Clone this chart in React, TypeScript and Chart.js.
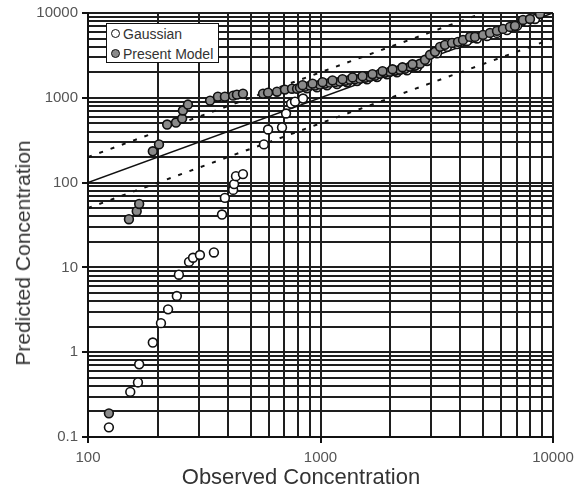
import React, { useEffect, useRef } from "react";
import { Chart, registerables } from "chart.js";

Chart.register(...registerables);

const gaussianObs = [
  123, 152, 164, 166, 190, 206, 221, 241, 246, 272, 283, 303, 348, 377, 388, 421, 425, 433, 464,
  571, 595, 683, 711, 747, 777, 841, 875, 966, 1067, 1178, 1300, 1436, 1585, 1750, 1932, 2133,
  2355, 2601, 2872, 3170, 3500, 3865, 4267, 4711, 5201, 5743, 6341, 7001, 7729, 8369,
];
const gaussianPred = [
  0.13, 0.34, 0.44, 0.72, 1.3, 2.2, 3.2, 4.6, 8.2, 11.6, 13, 14, 15, 42, 66, 82, 96, 119, 126,
  282, 423, 447, 653, 855, 900, 980, 1297, 1332, 1406, 1456, 1525, 1579, 1654, 1754, 1892, 1998,
  2109, 2287, 2719, 3356, 3989, 4303, 4679, 5006, 5357, 5824, 6283, 7036, 7884, 8502,
];

const presentObs = [
  123, 150, 162, 166, 190, 202, 219, 239, 254, 256, 269, 335, 362, 388, 421, 437, 464, 566, 595,
  650, 703, 754, 793, 816, 858, 901, 947, 995, 1045, 1099, 1154, 1213, 1275, 1340, 1408, 1479,
  1554, 1633, 1716, 1803, 1894, 1990, 2092, 2198, 2309, 2427, 2550, 2679, 2815, 2958, 3108, 3266,
  3431, 3678, 3903, 4102, 4395, 4618, 5001, 5358, 5743, 6095, 6533, 6864, 7430, 7962, 8793,
  837, 924, 1020, 1126, 1243, 1373, 1516, 1673, 1848, 2040, 2252, 2487,
];
const presentPred = [
  0.19, 37, 46, 56, 234, 282, 484, 511, 570, 708, 832, 927, 1030, 1030, 1060, 1090, 1120, 1120, 1150,
  1180, 1250, 1280, 1280, 1318, 1353, 1390, 1390, 1429, 1468, 1508, 1528, 1549, 1591, 1635, 1658, 1680,
  1726, 1773, 1822, 1923, 1975, 2030, 2085, 2143, 2201, 2323, 2387, 2520, 2808, 3214, 3485, 3988,
  4209, 4443, 4566, 4819, 5227, 5227, 5517, 5824, 6148, 6490, 6850, 7036, 8278, 8502, 9734,
  1410, 1468, 1528, 1605, 1658, 1740, 1798, 1898, 2058, 2172, 2293, 2486,
];

// Reference lines: 1:1 and factor-of-two bounds
const oneToOneX = [100, 10000];
const oneToOneY = [100, 10000];
const upperX = [100, 5000];
const upperY = [200, 10000];
const lowerX = [100, 10000];
const lowerY = [50, 5000];

// Axes
const xMin = 100;
const xMax = 10000;
const yMin = 0.1;
const yMax = 10000;
const xDecades = [100, 1000, 10000];
const yDecades = [0.1, 1, 10, 100, 1000, 10000];
const minorSteps = [1, 2, 3, 4, 5, 6, 7, 8, 9];
const xLabels = ["100", "1000", "10000"];
const yLabels = ["0.1", "1", "10", "100", "1000", "10000"];

const seriesNames = ["Gaussian", "Present Model"];

function buildTicks(decades: number[], max: number) {
  const out: { value: number; major: boolean }[] = [];
  decades.forEach((d) => {
    minorSteps.forEach((m) => {
      const v = parseFloat((d * m).toPrecision(6));
      if (v <= max) out.push({ value: v, major: m === 1 });
    });
  });
  return out;
}

function pts(xs: number[], ys: number[]) {
  return xs.map((x, i) => ({ x, y: ys[i] }));
}

const FONT = "'Liberation Sans', Arial, Helvetica, sans-serif";
const GRAY = "#8a8a8a";

export default function App() {
  const canvasRef = useRef<HTMLCanvasElement | null>(null);

  useEffect(() => {
    if (!canvasRef.current) return;
    const gridColor = "#1e1e1e";
    const chart = new Chart(canvasRef.current, {
      type: "scatter",
      data: {
        datasets: [
          {
            label: seriesNames[0],
            data: pts(gaussianObs, gaussianPred),
            backgroundColor: "#ffffff",
            borderColor: "#111",
            borderWidth: 1.6,
            pointRadius: 4.4,
            order: 2,
          },
          {
            label: seriesNames[1],
            data: pts(presentObs, presentPred),
            backgroundColor: GRAY,
            borderColor: "#111",
            borderWidth: 1.6,
            pointRadius: 4.4,
            order: 1,
          },
          {
            type: "line",
            label: "1:1",
            data: pts(oneToOneX, oneToOneY),
            borderColor: "#111",
            borderWidth: 1.6,
            pointRadius: 0,
            showLine: true,
            order: 3,
          } as any,
          {
            type: "line",
            label: "x2",
            data: pts(upperX, upperY),
            borderColor: "#111",
            borderWidth: 2,
            borderDash: [4, 8],
            pointRadius: 0,
            showLine: true,
            order: 3,
          } as any,
          {
            type: "line",
            label: "/2",
            data: pts(lowerX, lowerY),
            borderColor: "#111",
            borderWidth: 2,
            borderDash: [4, 8],
            pointRadius: 0,
            showLine: true,
            order: 3,
          } as any,
        ],
      },
      options: {
        animation: false,
        responsive: false,
        maintainAspectRatio: false,
        layout: { padding: { left: 0, top: 11, right: 31, bottom: 0 } },
        plugins: {
          legend: { display: false },
          tooltip: { enabled: false },
          title: { display: false },
        },
        scales: {
          x: {
            type: "logarithmic",
            min: xMin,
            max: xMax,
            afterBuildTicks: (axis: any) => {
              axis.ticks = buildTicks(xDecades, xMax);
            },
            afterFit: (axis: any) => {
              axis.height = 51;
            },
            border: { color: "#111", width: 2 },
            grid: {
              color: gridColor,
              lineWidth: 2,
              tickLength: 6,
              tickColor: (ctx: any) => (ctx.tick && ctx.tick.major ? "#111" : "rgba(0,0,0,0)"),
              tickWidth: 2,
            },
            ticks: {
              autoSkip: false,
              maxRotation: 0,
              padding: 6,
              color: "#555",
              font: { family: FONT, size: 15 },
              callback: (value: any) => {
                const i = xDecades.findIndex((d) => Math.abs(d - Number(value)) < 1e-9);
                return i >= 0 ? xLabels[i] : "";
              },
            },
          },
          y: {
            type: "logarithmic",
            min: yMin,
            max: yMax,
            afterBuildTicks: (axis: any) => {
              axis.ticks = buildTicks(yDecades, yMax);
            },
            afterFit: (axis: any) => {
              axis.width = 88;
            },
            border: { color: "#111", width: 2 },
            grid: {
              color: gridColor,
              lineWidth: 2,
              tickLength: 6,
              tickColor: (ctx: any) => (ctx.tick && ctx.tick.major ? "#111" : "rgba(0,0,0,0)"),
              tickWidth: 2,
            },
            ticks: {
              autoSkip: false,
              padding: 4,
              color: "#555",
              font: { family: FONT, size: 15 },
              callback: (value: any) => {
                const i = yDecades.findIndex((d) => Math.abs(d - Number(value)) < 1e-9);
                return i >= 0 ? yLabels[i] : "";
              },
            },
          },
        },
      } as any,
    });
    return () => chart.destroy();
  }, []);

  const circle = (bg: string): React.CSSProperties => ({
    position: "absolute",
    left: 3.5,
    width: 7,
    height: 7,
    borderRadius: "50%",
    border: "1.6px solid #111",
    background: bg,
  });

  return (
    <div
      style={{
        position: "absolute",
        left: 0,
        top: 0,
        width: 584,
        height: 488,
        background: "#fff",
        fontFamily: FONT,
      }}
    >
      <canvas ref={canvasRef} width={584} height={488} style={{ display: "block" }} />
      <div
        style={{
          position: "absolute",
          left: 106,
          top: 23,
          width: 113,
          height: 40,
          boxSizing: "border-box",
          border: "1.5px solid #111",
          background: "#fff",
          fontSize: 14,
          color: "#333",
        }}
      >
        <span style={{ ...circle("#fff"), top: 4.5 }} />
        <span style={{ position: "absolute", left: 16, top: 2, lineHeight: "16px" }}>{seriesNames[0]}</span>
        <span style={{ ...circle(GRAY), top: 24.5 }} />
        <span style={{ position: "absolute", left: 16, top: 22, lineHeight: "16px" }}>{seriesNames[1]}</span>
      </div>
      <div
        style={{
          position: "absolute",
          left: 23,
          top: 253,
          transform: "translate(-50%, -50%) rotate(-90deg)",
          whiteSpace: "nowrap",
          fontSize: 21,
          color: "#333",
        }}
      >
        Predicted Concentration
      </div>
      <div
        style={{
          position: "absolute",
          left: 301,
          top: 477,
          transform: "translate(-50%, -50%)",
          whiteSpace: "nowrap",
          fontSize: 22,
          color: "#333",
        }}
      >
        Observed Concentration
      </div>
    </div>
  );
}
